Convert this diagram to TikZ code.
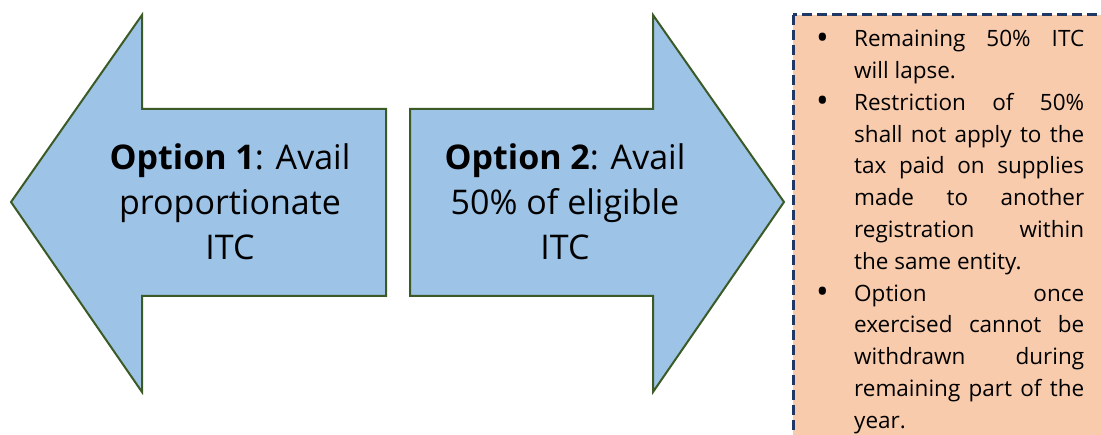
\documentclass[tikz,border=0pt]{standalone}
\usepackage{fontspec}
\setmainfont{Open Sans}
\definecolor{arrowfill}{HTML}{9DC3E6}
\definecolor{arrowline}{HTML}{3B5A26}
\definecolor{boxfill}{HTML}{F8CBAD}
\definecolor{boxline}{HTML}{1F3864}
\newcommand\bulitem[1]{\par\noindent\hangindent=37pt\hangafter=1\makebox[37pt][l]{\hspace{-1pt}\raisebox{-2.5pt}{\scalebox{1.5}{•}}}#1\par}
\begin{document}
\begin{tikzpicture}[x=1pt,y=-1pt,
  arrowshape/.style={fill=arrowfill,draw=arrowline,line width=2pt,line join=miter},
  arrowtext/.style={align=center,anchor=base,inner sep=0pt,font=\fontsize{34}{45}\selectfont},
  notebox/.style={fill=boxfill,draw=boxline,line width=3pt,dash pattern=on 10pt off 5pt},
  notetext/.style={anchor=base west,inner sep=0pt,text width=267pt,align=justify,
    font=\fontsize{22.5}{31.8}\selectfont}]
\useasboundingbox (0,0) rectangle (1101,435);
\clip (0,0) rectangle (1101,435);
% left arrow
\draw[arrowshape] (11,202) -- (142,15) -- (142,109) -- (386,109) -- (386,296)
  -- (142,296) -- (142,392) -- cycle;
% right arrow
\draw[arrowshape] (410,109) -- (653,109) -- (653,15) -- (784,202) -- (653,392)
  -- (653,296) -- (410,296) -- cycle;
\node[arrowtext] (opt1) at (230,260) {\textbf{Option 1}: Avail\\proportionate\\ITC};
\node[arrowtext] (opt2) at (565,260) {\textbf{Option 2}: Avail\\50\% of eligible\\ITC};
% note box
\draw[notebox] (793,15) rectangle (1130,460);
\node[notetext] (notes) at (817,15) {\pretolerance=-1\tolerance=10000\hyphenpenalty=10000\parfillskip=0pt plus 1fil
\bulitem{Remaining 50\% ITC\linebreak will lapse.}
\bulitem{Restriction of 50\%\linebreak shall not apply to the\linebreak tax paid on supplies\linebreak made to another\linebreak registration within\linebreak the same entity.}
\bulitem{Option once\linebreak exercised cannot be\linebreak withdrawn during\linebreak remaining part of the\linebreak year.}};
\end{tikzpicture}
\end{document}
